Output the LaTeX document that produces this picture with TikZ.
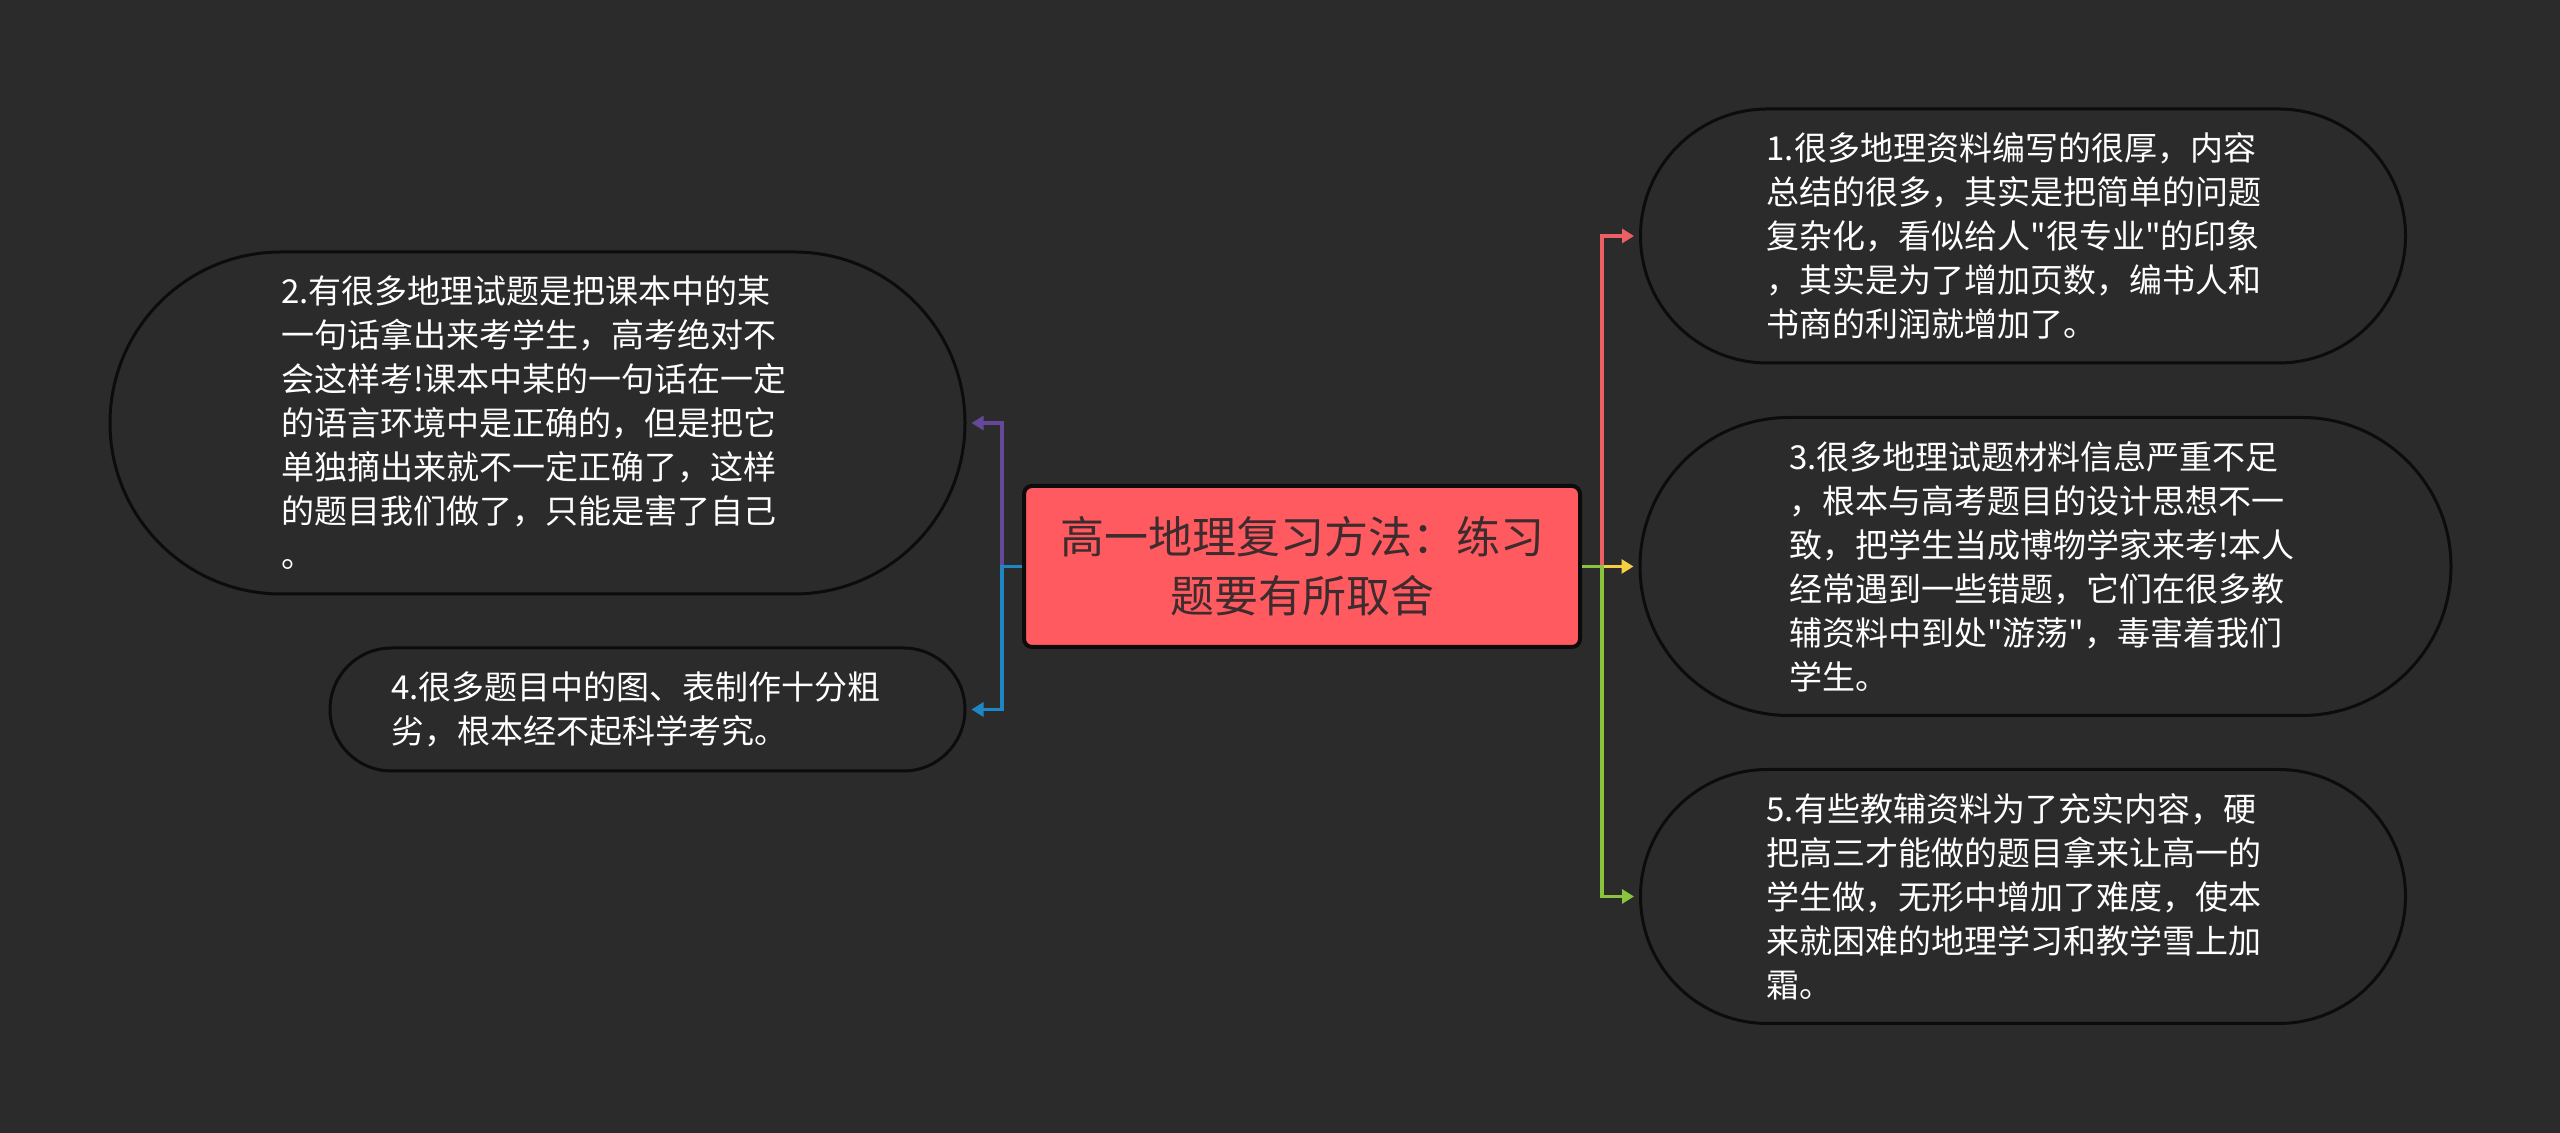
\documentclass[tikz,border=0pt]{standalone}
\usepackage{fontspec}
\setmainfont[Ligatures=TeXOff]{Noto Sans CJK SC}
\usetikzlibrary{positioning,shapes.misc,arrows.meta}
\definecolor{bgdark}{HTML}{2B2B2B}
\definecolor{rootred}{HTML}{FF5A5F}
\definecolor{rootink}{HTML}{3D2B2E}
\definecolor{edgered}{HTML}{EE5F63}
\definecolor{edgeyellow}{HTML}{F6CE46}
\definecolor{edgegreen}{HTML}{88C53C}
\definecolor{edgepurple}{HTML}{65489A}
\definecolor{edgeblue}{HTML}{1F86C6}
\definecolor{outline}{HTML}{0C0C0C}
\tikzset{
  rootbox/.style={draw=outline,fill=rootred,line width=2pt,rounded corners=4pt,
    minimum width=278pt,minimum height=80.5pt,inner sep=0pt,align=center,text=rootink,
    font=\fontsize{22pt}{29.5pt}\selectfont},
  topic/.style={rounded rectangle,draw=outline,fill=bgdark,line width=1.5pt,inner sep=0pt,
    text width=256.5pt,align=left,text=white,
    font=\fontsize{16.5pt}{22pt}\selectfont},
  branch/.style={line width=1.75pt,-{Triangle[length=6pt,width=7pt]}}
}
\begin{document}
\begin{tikzpicture}[shorten >=2.5pt,on grid]
\fill[bgdark] (0,0) rectangle (1280pt,566.5pt);
\node[rootbox] (root) at (651pt,283.25pt) {高一地理复习方法：练习\\题要有所取舍};

\node[topic,minimum width=382.5pt,minimum height=127pt] (t_1) [above right=165.25pt and 360.5pt of root]
  {1.很多地理资料编写的很厚，内容\\总结的很多，其实是把简单的问题\\复杂化，看似给人"很专业"的印象\\，其实是为了增加页数，编书人和\\书商的利润就增加了。};
\node[topic,minimum width=405.5pt,minimum height=149pt] (t_3) [right=371.75pt of root]
  {3.很多地理试题材料信息严重不足\\，根本与高考题目的设计思想不一\\致，把学生当成博物学家来考!本人\\经常遇到一些错题，它们在很多教\\辅资料中到处"游荡"，毒害着我们\\学生。};
\node[topic,minimum width=382.5pt,minimum height=127pt] (t_5) [below right=165pt and 360.5pt of root]
  {5.有些教辅资料为了充实内容，硬\\把高三才能做的题目拿来让高一的\\学生做，无形中增加了难度，使本\\来就困难的地理学习和教学雪上加\\霜。};
\node[topic,minimum width=427.5pt,minimum height=171pt] (t_2) [above left=71.75pt and 382.25pt of root]
  {2.有很多地理试题是把课本中的某\\一句话拿出来考学生，高考绝对不\\会这样考!课本中某的一句话在一定\\的语言环境中是正确的，但是把它\\单独摘出来就不一定正确了，这样\\的题目我们做了，只能是害了自己\\。};
\node[topic,minimum width=317.5pt,minimum height=61.5pt] (t_4) [below left=71.5pt and 327.25pt of root]
  {4.很多题目中的图、表制作十分粗\\劣，根本经不起科学考究。};

\coordinate (hub_r) at ([xshift=10pt]root.east);
\coordinate (hub_l) at ([xshift=-10pt]root.west);

\draw[branch,edgered] (root.east) -- (hub_r) |- (t_1.west);
\draw[branch,edgeyellow] (root.east) -- (t_3.west);
\draw[branch,edgegreen] (root.east) -- (hub_r) |- (t_5.west);
\draw[branch,edgepurple] (root.west) -- (hub_l) |- (t_2.east);
\draw[branch,edgeblue] (root.west) -- (hub_l) |- (t_4.east);
\end{tikzpicture}
\end{document}
